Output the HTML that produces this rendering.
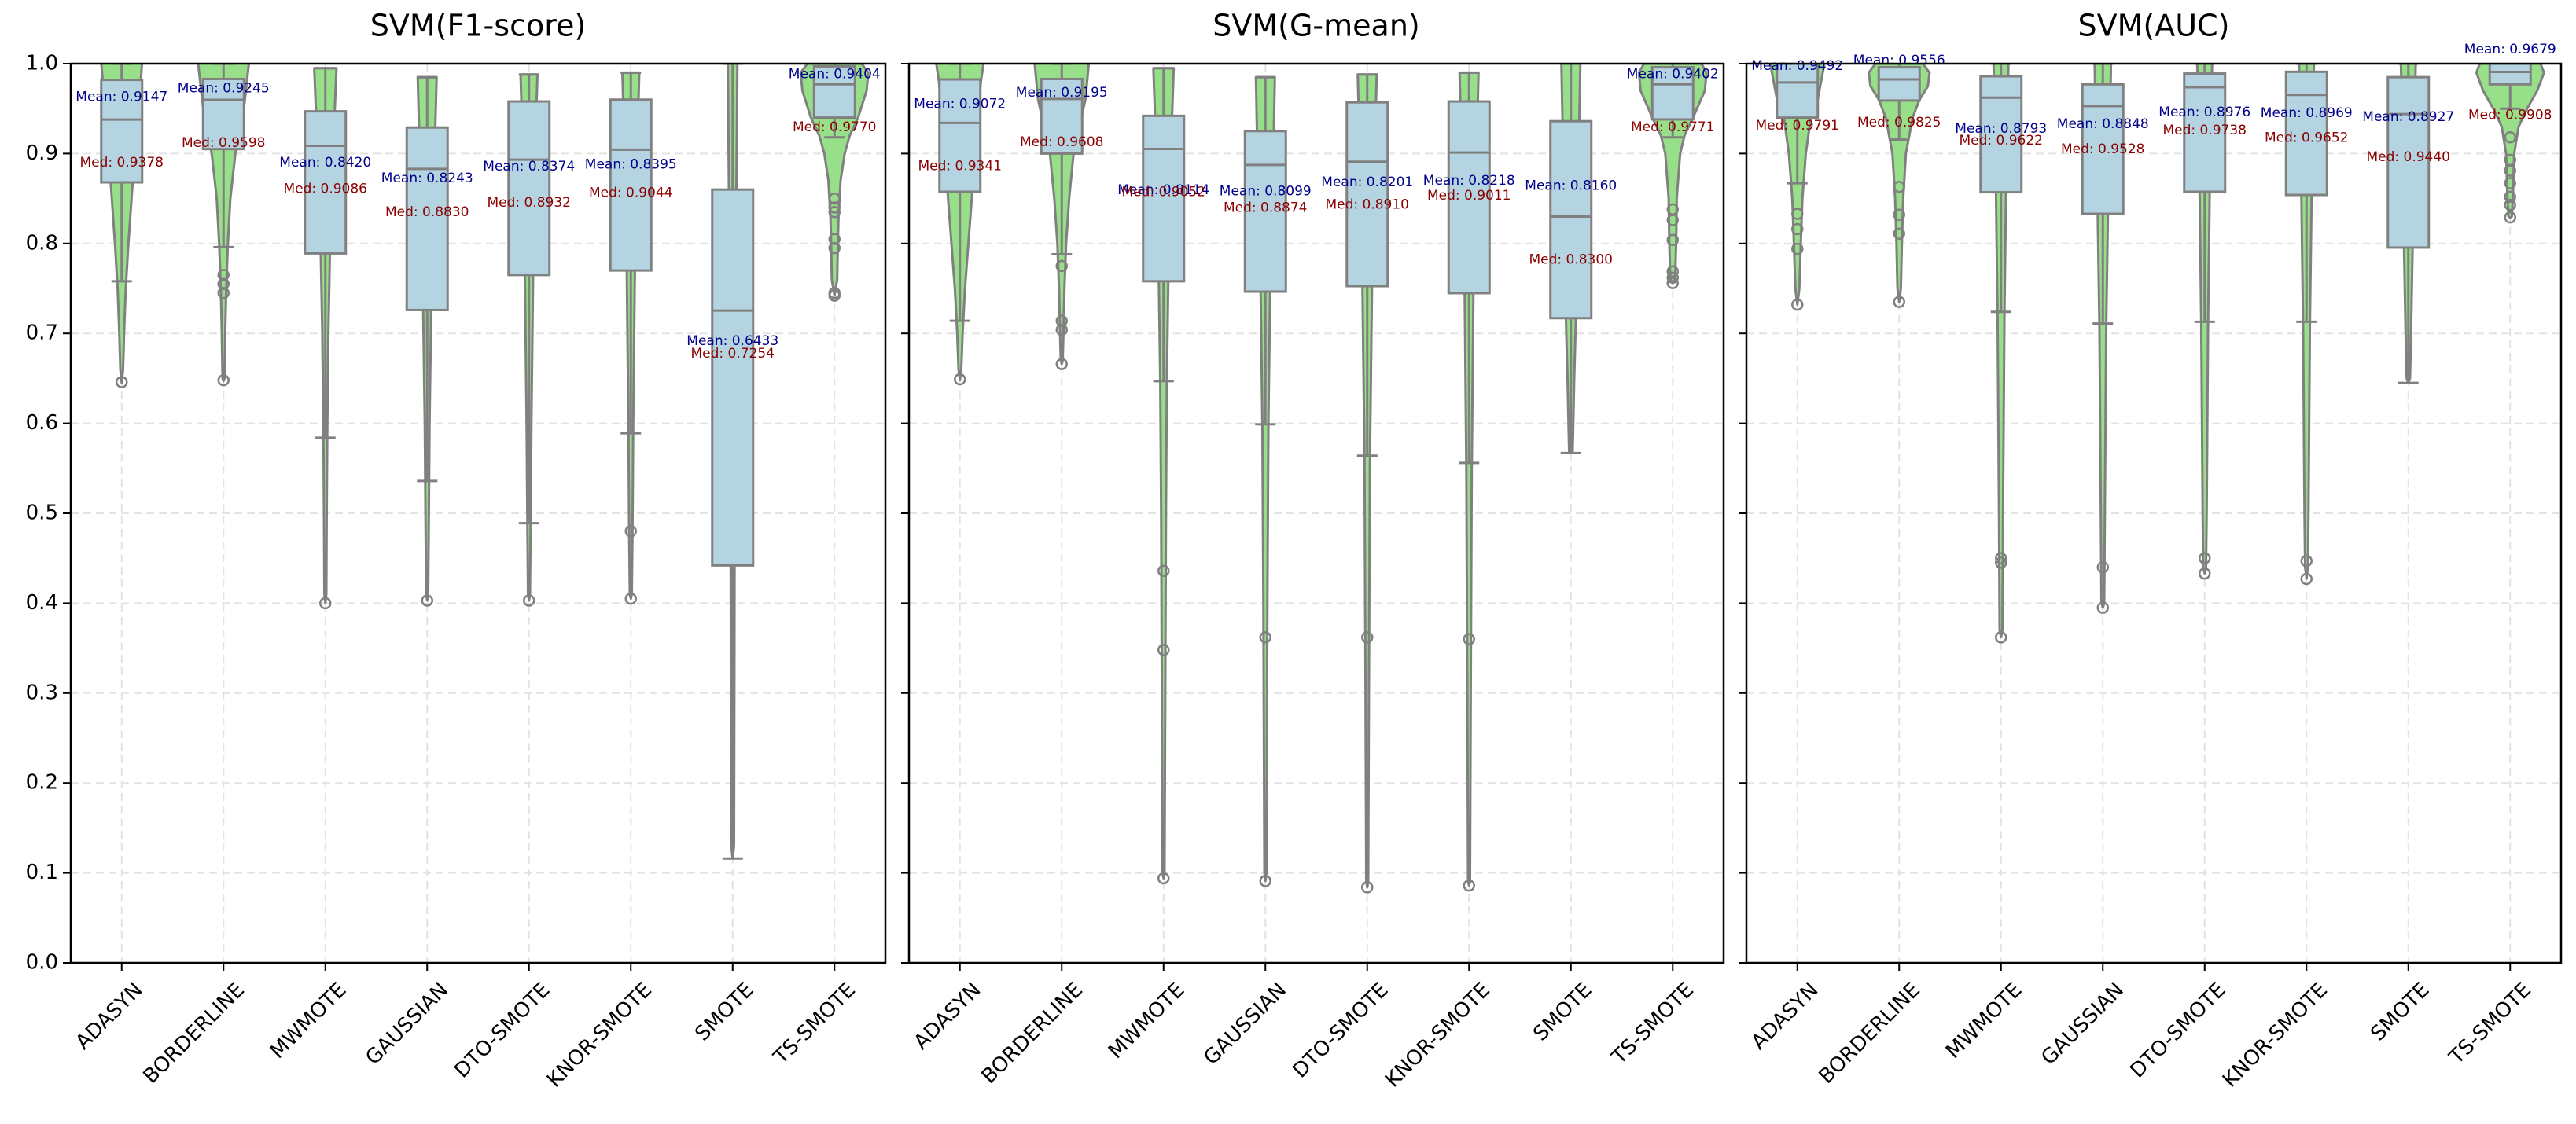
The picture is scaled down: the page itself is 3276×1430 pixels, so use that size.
<!DOCTYPE html>
<html><head><meta charset="utf-8"><style>
html,body{margin:0;padding:0;background:#fff;}
svg{display:block;font-family:"DejaVu Sans","Liberation Sans",sans-serif;}
</style></head><body>
<svg id="chart" width="3276" height="1430" viewBox="0 0 3276 1430" xmlns="http://www.w3.org/2000/svg"></svg>
<script>
const categories = ["ADASYN","BORDERLINE","MWMOTE","GAUSSIAN","DTO-SMOTE","KNOR-SMOTE","SMOTE","TS-SMOTE"];
const titles = ["SVM(F1-score)","SVM(G-mean)","SVM(AUC)"];
const yTicks = [0.0,0.1,0.2,0.3,0.4,0.5,0.6,0.7,0.8,0.9,1.0];
const yTickLabels = ["0.0","0.1","0.2","0.3","0.4","0.5","0.6","0.7","0.8","0.9","1.0"];

const f1Mean = [0.9147,0.9245,0.8420,0.8243,0.8374,0.8395,0.6433,0.9404];
const f1Med  = [0.9378,0.9598,0.9086,0.8830,0.8932,0.9044,0.7254,0.9770];
const f1Q1   = [0.868,0.905,0.789,0.726,0.765,0.770,0.442,0.940];
const f1Q3   = [0.982,0.983,0.947,0.929,0.958,0.960,0.860,0.997];
const f1WLo  = [0.758,0.796,0.584,0.536,0.489,0.589,0.116,0.918];
const f1WHi  = [1.0,1.0,0.995,0.985,0.988,0.990,1.0,1.0];
const f1Out  = [[0.646],[0.765,0.755,0.745,0.648],[0.40],[0.403],[0.403],[0.48,0.405],[],[0.85,0.84,0.835,0.805,0.795,0.745,0.742]];
const f1Violin = [
 [[1.03,0.7],[1.0,0.6],[0.95,0.5],[0.87,0.33],[0.8,0.2],[0.75,0.12],[0.7,0.07],[0.66,0.04],[0.645,0]],
 [[1.03,0.8],[1.0,0.75],[0.95,0.6],[0.9,0.35],[0.85,0.2],[0.8,0.13],[0.75,0.08],[0.7,0.05],[0.65,0.03],[0.647,0]],
 [[0.995,0.33],[0.95,0.28],[0.9,0.22],[0.8,0.14],[0.7,0.09],[0.6,0.06],[0.5,0.04],[0.41,0.03],[0.40,0]],
 [[0.985,0.28],[0.93,0.24],[0.85,0.18],[0.73,0.12],[0.6,0.07],[0.5,0.05],[0.41,0.03],[0.403,0]],
 [[0.988,0.25],[0.95,0.22],[0.85,0.16],[0.76,0.12],[0.6,0.07],[0.5,0.05],[0.41,0.03],[0.403,0]],
 [[0.990,0.25],[0.95,0.22],[0.85,0.16],[0.77,0.12],[0.6,0.07],[0.48,0.05],[0.41,0.03],[0.405,0]],
 [[1.03,0.15],[1.0,0.14],[0.9,0.12],[0.86,0.11],[0.7,0.08],[0.5,0.06],[0.3,0.05],[0.13,0.04],[0.116,0]],
 [[1.0,0.8],[0.99,1.0],[0.97,0.95],[0.94,0.7],[0.92,0.45],[0.9,0.3],[0.87,0.18],[0.83,0.12],[0.8,0.1],[0.76,0.08],[0.742,0]]
];

const gMean = [0.9072,0.9195,0.8114,0.8099,0.8201,0.8218,0.8160,0.9402];
const gMed  = [0.9341,0.9608,0.9052,0.8874,0.8910,0.9011,0.8300,0.9771];
const gQ1   = [0.8575,0.900,0.758,0.7465,0.7526,0.7448,0.717,0.938];
const gQ3   = [0.9825,0.983,0.942,0.925,0.957,0.958,0.936,0.996];
const gWLo  = [0.714,0.788,0.647,0.599,0.564,0.556,0.567,0.918];
const gWHi  = [1.0,1.0,0.995,0.985,0.988,0.990,1.0,1.0];
const gOut  = [[0.649],[0.775,0.714,0.704,0.666],[0.436,0.348,0.094],[0.362,0.091],[0.362,0.084],[0.36,0.086],[],[0.838,0.826,0.804,0.769,0.762,0.756]];
const gViolin = [
 [[1.03,0.75],[1.0,0.7],[0.98,0.62],[0.93,0.5],[0.86,0.37],[0.8,0.25],[0.75,0.15],[0.7,0.08],[0.66,0.04],[0.648,0]],
 [[1.03,0.85],[1.0,0.8],[0.96,0.7],[0.9,0.35],[0.85,0.22],[0.8,0.13],[0.75,0.08],[0.7,0.05],[0.67,0.03],[0.666,0]],
 [[0.995,0.3],[0.94,0.25],[0.76,0.14],[0.65,0.1],[0.5,0.07],[0.3,0.05],[0.1,0.03],[0.094,0]],
 [[0.985,0.28],[0.925,0.25],[0.75,0.14],[0.6,0.09],[0.4,0.06],[0.1,0.03],[0.091,0]],
 [[0.988,0.28],[0.957,0.26],[0.75,0.14],[0.56,0.08],[0.3,0.05],[0.09,0.03],[0.084,0]],
 [[0.990,0.28],[0.958,0.26],[0.745,0.13],[0.55,0.08],[0.3,0.05],[0.09,0.03],[0.086,0]],
 [[1.03,0.3],[1.0,0.28],[0.94,0.25],[0.83,0.2],[0.72,0.15],[0.65,0.1],[0.58,0.06],[0.567,0.05]],
 [[1.0,0.85],[0.99,1.0],[0.97,0.95],[0.94,0.6],[0.92,0.35],[0.9,0.22],[0.85,0.12],[0.8,0.1],[0.76,0.07],[0.756,0]]
];

const aMean = [0.9492,0.9556,0.8793,0.8848,0.8976,0.8969,0.8927,0.9679];
const aMed  = [0.9791,0.9825,0.9622,0.9528,0.9738,0.9652,0.9440,0.9908];
const aQ1   = [0.940,0.959,0.857,0.833,0.8575,0.854,0.7955,0.977];
const aQ3   = [1.0,0.996,0.986,0.977,0.989,0.991,0.985,1.0];
const aWLo  = [0.867,0.9155,0.724,0.711,0.713,0.713,0.645,0.95];
const aWHi  = [1.0,1.0,1.0,1.0,1.0,1.0,1.0,1.0];
const aOut  = [[0.833,0.816,0.794,0.732],[0.863,0.832,0.811,0.735],[0.45,0.445,0.362],[0.44,0.395],[0.45,0.433],[0.447,0.427],[],[0.918,0.893,0.881,0.867,0.852,0.843,0.829]];
const aViolin = [
 [[1.03,0.9],[1.0,0.8],[0.96,0.6],[0.94,0.4],[0.9,0.25],[0.85,0.15],[0.8,0.1],[0.75,0.06],[0.732,0]],
 [[1.0,0.7],[0.99,0.9],[0.975,0.85],[0.96,0.6],[0.94,0.4],[0.9,0.2],[0.85,0.12],[0.8,0.08],[0.75,0.05],[0.735,0]],
 [[1.03,0.25],[1.0,0.22],[0.96,0.2],[0.86,0.15],[0.72,0.1],[0.5,0.06],[0.37,0.04],[0.362,0]],
 [[1.03,0.25],[1.0,0.24],[0.95,0.22],[0.83,0.15],[0.71,0.1],[0.5,0.06],[0.4,0.04],[0.395,0]],
 [[1.03,0.25],[1.0,0.22],[0.86,0.15],[0.71,0.1],[0.5,0.06],[0.44,0.04],[0.433,0]],
 [[1.03,0.25],[1.0,0.22],[0.85,0.15],[0.71,0.1],[0.5,0.06],[0.44,0.04],[0.427,0]],
 [[1.03,0.25],[1.0,0.22],[0.94,0.18],[0.8,0.13],[0.7,0.08],[0.65,0.05],[0.645,0]],
 [[1.0,0.9],[0.99,1.0],[0.97,0.8],[0.95,0.5],[0.93,0.25],[0.9,0.12],[0.85,0.08],[0.83,0.05],[0.829,0]]
];

const panels = [
 {mean:f1Mean,med:f1Med,q1:f1Q1,q3:f1Q3,wlo:f1WLo,whi:f1WHi,out:f1Out,vio:f1Violin},
 {mean:gMean,med:gMed,q1:gQ1,q3:gQ3,wlo:gWLo,whi:gWHi,out:gOut,vio:gViolin},
 {mean:aMean,med:aMed,q1:aQ1,q3:aQ3,wlo:aWLo,whi:aWHi,out:aOut,vio:aViolin}
];

const NS = "http://www.w3.org/2000/svg";
const svg = document.getElementById("chart");
const PW = 1036, TOP = 81, BOT = 1225, LEFTS = [90, 1156, 2221];
const band = PW / categories.length;
const VMAX = 43, BOXH = 26, CAPH = 13;
function mk(tag, attrs, parent){ const e = document.createElementNS(NS, tag); for (const k in attrs) e.setAttribute(k, attrs[k]); (parent||svg).appendChild(e); return e; }
function yS(v){ return BOT - v * (BOT - TOP); }

panels.forEach((p, pi) => {
  const L = LEFTS[pi];
  const xS = i => L + band * (i + 0.5);
  const g = mk("g", {});
  
  
  const clip = mk("clipPath", {id: "clip" + pi}, g);
  mk("rect", {x: L, y: TOP, width: PW, height: BOT - TOP}, clip);

  // grid
  yTicks.forEach(t => {
    const gl = mk("line", {x1: L, x2: L + PW, y1: yS(t), y2: yS(t), stroke: "#e3e3e3", "stroke-width": 2, "stroke-dasharray": "10,6"}, g);
    
    
  });
  categories.forEach((c, i) => {
    const gl = mk("line", {x1: xS(i), x2: xS(i), y1: TOP, y2: BOT, stroke: "#e3e3e3", "stroke-width": 2, "stroke-dasharray": "10,6"}, g);
    
    
  });

  const plot = mk("g", {"clip-path": "url(#clip" + pi + ")"}, g);
  categories.forEach((c, i) => {
    const x = xS(i);
    const knots = p.vio[i];
    const right = knots.map(k => (x + k[1] * VMAX).toFixed(1) + "," + yS(k[0]).toFixed(1));
    const left = knots.slice().reverse().map(k => (x - k[1] * VMAX).toFixed(1) + "," + yS(k[0]).toFixed(1));
    const vp = mk("polygon", {points: right.concat(left).join(" "), fill: "#98df8a", stroke: "#808080", "stroke-width": 3, "stroke-linejoin": "round"}, plot);
    
    
    // whiskers
    const w1 = mk("line", {x1: x, x2: x, y1: yS(p.q1[i]), y2: yS(p.wlo[i]), stroke: "#808080", "stroke-width": 3}, plot);
    
    
    const w2 = mk("line", {x1: x, x2: x, y1: yS(p.q3[i]), y2: yS(p.whi[i]), stroke: "#808080", "stroke-width": 3}, plot);
    
    
    const c1 = mk("line", {x1: x - CAPH, x2: x + CAPH, y1: yS(p.wlo[i]), y2: yS(p.wlo[i]), stroke: "#808080", "stroke-width": 3}, plot);
    
    
    const c2 = mk("line", {x1: x - CAPH, x2: x + CAPH, y1: yS(p.whi[i]), y2: yS(p.whi[i]), stroke: "#808080", "stroke-width": 3}, plot);
    
    
    // box
    const bx = mk("rect", {x: x - BOXH, y: yS(p.q3[i]), width: BOXH * 2, height: yS(p.q1[i]) - yS(p.q3[i]), fill: "#b3d4e0", stroke: "#808080", "stroke-width": 3}, plot);
    
    
    const ml = mk("line", {x1: x - BOXH, x2: x + BOXH, y1: yS(p.med[i]), y2: yS(p.med[i]), stroke: "#808080", "stroke-width": 3}, plot);
    
    
    p.out[i].forEach(v => {
      const o = mk("circle", {cx: x, cy: yS(v), r: 6.5, fill: "none", stroke: "#808080", "stroke-width": 2.5}, plot);
      
      
    });
  });

  // labels
  categories.forEach((c, i) => {
    const x = xS(i);
    const t1 = mk("text", {x: x, y: yS(p.mean[i] + 0.048), "text-anchor": "middle", "dominant-baseline": "middle", "font-size": 17, fill: "#00008b"}, g);
    t1.textContent = "Mean: " + p.mean[i].toFixed(4);
    
    
    const t2 = mk("text", {x: x, y: yS(p.med[i] - 0.048), "text-anchor": "middle", "dominant-baseline": "middle", "font-size": 17, fill: "#8b0000"}, g);
    t2.textContent = "Med: " + p.med[i].toFixed(4);
    
    
  });

  // frame
  const fr = mk("rect", {x: L, y: TOP, width: PW, height: BOT - TOP, fill: "none", stroke: "#000", "stroke-width": 2.5}, g);
  
  

  // y ticks
  yTicks.forEach((t, k) => {
    const tk = mk("line", {x1: L - 10, x2: L, y1: yS(t), y2: yS(t), stroke: "#000", "stroke-width": 2}, g);
    
    
    if (pi === 0) {
      const tl = mk("text", {x: L - 16, y: yS(t), "text-anchor": "end", "dominant-baseline": "middle", "font-size": 26, fill: "#000"}, g);
      tl.textContent = yTickLabels[k];
      
      
    }
  });
  // x ticks
  categories.forEach((c, i) => {
    const x = xS(i);
    const tk = mk("line", {x1: x, x2: x, y1: BOT, y2: BOT + 10, stroke: "#000", "stroke-width": 2}, g);
    
    
    const tl = mk("text", {x: 0, y: 0, dy: "0.75em", "text-anchor": "end", "font-size": 26, fill: "#000", transform: "translate(" + (x + 14) + "," + (BOT + 22) + ") rotate(-45)"}, g);
    tl.textContent = c;
    
    
  });

  const tt = mk("text", {x: L + PW / 2, y: 35, "text-anchor": "middle", "dominant-baseline": "middle", "font-size": 38, fill: "#000"}, g);
  tt.textContent = titles[pi];
  
  
});
</script>
</body></html>
